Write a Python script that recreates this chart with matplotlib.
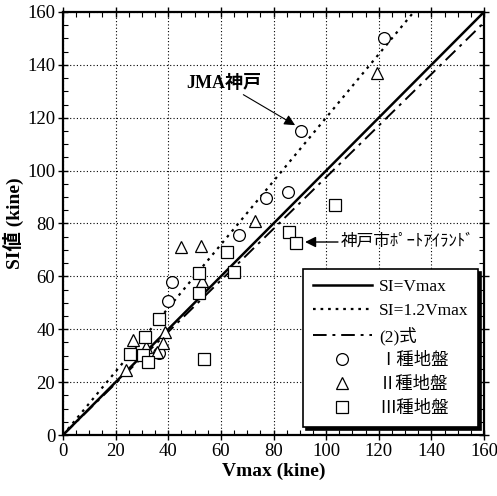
import matplotlib
matplotlib.use("Agg")
import matplotlib.pyplot as plt

plt.rcParams['font.family'] = ['Liberation Serif', 'Noto Sans CJK JP', 'DejaVu Sans']

# ---- data ----
type1_vmax = [122, 90.5, 77, 85.4, 67, 41.5, 40, 36.5]
type1_si = [150, 115, 89.6, 91.8, 75.5, 58, 50.7, 31]

type2_vmax = [119.3, 44.7, 52.4, 73, 52.7, 26.6, 31.4, 38.9, 37.9, 35.6, 24]
type2_si = [137, 71, 71.6, 80.8, 58.2, 36, 33.4, 39.1, 34.7, 31.5, 24.7]

type3_vmax = [103.2, 86, 88.6, 62.5, 64.8, 51.5, 51.8, 36.6, 31, 25.4, 30.4, 32.4, 53.4]
type3_si = [87, 76.9, 72.5, 69.3, 61.8, 61.4, 53.8, 44, 37.2, 30.6, 30.3, 27.6, 28.7]

line_vmax = [0, 160]
line_si_eq = [0, 160]          # SI = Vmax
line12_vmax = [0, 133.3]
line12_si = [0, 160]           # SI = 1.2 Vmax
eq2_vmax = [0, 160]
eq2_si = [0, 156]              # (2)式

ticks = [0, 20, 40, 60, 80, 100, 120, 140, 160]

# ---- figure ----
fig = plt.figure(figsize=(4.97, 4.96), dpi=100)
ax = fig.add_axes([63/497, 61/496, 421/497, 423/496])

ax.plot(line_vmax, line_si_eq, color='black', lw=1.8, label='SI=Vmax', zorder=3)
ax.plot(line12_vmax, line12_si, color='black', lw=1.6, linestyle=(0, (1.2, 2.2)),
        label='SI=1.2Vmax', zorder=3)
ax.plot(eq2_vmax, eq2_si, color='black', lw=1.4, linestyle=(0, (7, 3, 1.5, 3)),
        label='(2)式', zorder=3)

mk = dict(linestyle='none', markerfacecolor='white', markeredgecolor='black',
          markeredgewidth=0.9, markersize=8.5, zorder=4)
ax.plot(type1_vmax, type1_si, marker='o', label='Ⅰ種地盤', **mk)
ax.plot(type2_vmax, type2_si, marker='^', label='Ⅱ種地盤', **mk)
ax.plot(type3_vmax, type3_si, marker='s', label='Ⅲ種地盤', **mk)

ax.set_xlim(0, 160)
ax.set_ylim(0, 160)
ax.set_xticks(ticks)
ax.set_yticks(ticks)
ax.set_xticks(range(0, 161, 5), minor=True)
ax.set_yticks(range(0, 161, 5), minor=True)
ax.tick_params(which='major', direction='inout', length=7, width=1.0,
               labelsize=13.5, top=True, right=True, pad=2)
ax.tick_params(which='minor', direction='in', length=3.5, width=0.8,
               top=True, right=True)
for s in ax.spines.values():
    s.set_linewidth(1.6)

ax.grid(True, which='major', color='black', linestyle=(0, (1, 2)), lw=0.8)
ax.set_axisbelow(True)

ax.set_xlabel('Vmax (kine)', fontsize=14, fontweight='bold', labelpad=2)
ax.set_ylabel('SI値 (kine)', fontsize=14, fontweight='bold', labelpad=2)

# annotations
ax.annotate('JMA神戸', xy=(88.2, 117.2), xytext=(47, 133),
            fontsize=13, fontweight='bold', va='center', ha='left',
            arrowprops=dict(arrowstyle='-|>', color='black', lw=0.8,
                            mutation_scale=16, shrinkA=0, shrinkB=0),
            zorder=5)
ax.annotate('', xy=(92, 73), xytext=(104.5, 73),
            arrowprops=dict(arrowstyle='-|>', color='black', lw=1.0,
                            mutation_scale=16, shrinkA=0, shrinkB=0))
ax.text(105.5, 73, '神戸市ﾎﾟｰﾄｱｲﾗﾝﾄﾞ', fontsize=12, va='center', ha='left')

leg = ax.legend(loc='lower right', bbox_to_anchor=(0.986, 0.019),
                borderaxespad=0,
                fontsize=12.5, frameon=True, fancybox=False,
                edgecolor='black', framealpha=1, handlelength=3.4,
                labelspacing=0.45, borderpad=0.55, handletextpad=0.4,
                shadow={'facecolor': 'black', 'edgecolor': 'black', 'alpha': 1})
leg.get_frame().set_linewidth(1.2)
leg.set_zorder(10)

fig.savefig('out.png', dpi=100)
